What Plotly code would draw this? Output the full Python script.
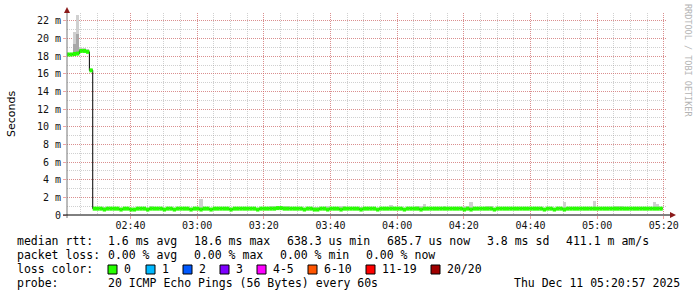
import plotly.graph_objects as go
import pandas as pd

# ---------------- data (per minute, ms) ----------------
start_time = "2025-12-11 02:20:40"
median_ms = [
    18.2, 18.2, 18.25, 18.3, 18.6, 18.6, 18.5, 16.4, 0.72, 0.72, 0.72, 0.62, 0.72, 0.72, 0.72, 0.72, 0.62, 0.72, 0.72, 0.62,
    0.62, 0.72, 0.72, 0.72, 0.62, 0.72, 0.72, 0.72, 0.72, 0.62, 0.72, 0.72, 0.62, 0.72, 0.72, 0.72, 0.72, 0.62, 0.72, 0.72,
    0.62, 0.72, 0.72, 0.62, 0.72, 0.72, 0.72, 0.72, 0.72, 0.62, 0.72, 0.72, 0.72, 0.72, 0.72, 0.72, 0.72, 0.62, 0.72, 0.72,
    0.72, 0.72, 0.72, 0.78, 0.78, 0.72, 0.72, 0.72, 0.72, 0.72, 0.72, 0.62, 0.72, 0.72, 0.62, 0.62, 0.72, 0.72, 0.62, 0.72,
    0.72, 0.72, 0.62, 0.72, 0.72, 0.72, 0.72, 0.72, 0.62, 0.72, 0.72, 0.72, 0.72, 0.62, 0.72, 0.72, 0.72, 0.72, 0.72, 0.72,
    0.72, 0.62, 0.72, 0.72, 0.72, 0.72, 0.62, 0.72, 0.72, 0.72, 0.72, 0.72, 0.72, 0.72, 0.72, 0.72, 0.72, 0.72, 0.72, 0.62,
    0.72, 0.62, 0.72, 0.72, 0.72, 0.72, 0.72, 0.72, 0.62, 0.72, 0.72, 0.72, 0.72, 0.72, 0.72, 0.72, 0.72, 0.72, 0.72, 0.72,
    0.72, 0.72, 0.72, 0.62, 0.72, 0.72, 0.62, 0.72, 0.72, 0.62, 0.72, 0.72, 0.72, 0.72, 0.72, 0.72, 0.72, 0.72, 0.72, 0.72,
    0.72, 0.72, 0.72, 0.72, 0.72, 0.72, 0.72, 0.72, 0.72, 0.72, 0.72, 0.72, 0.72, 0.72, 0.72, 0.72, 0.72, 0.72, 0.72,
]
smoke_max_ms = [
    18.4, 18.4, 20.7, 22.7, 18.9, 18.9, 18.8, 16.6, 0.85, 0.85, 0.85, 0.95, 0.85, 0.85, 0.85, 0.85, 0.85, 0.85, 0.85, 0.85,
    0.85, 0.85, 0.85, 0.85, 0.85, 1.0, 0.85, 0.85, 0.85, 0.85, 0.85, 0.85, 0.85, 0.85, 0.85, 0.85, 0.85, 0.85, 0.85, 0.85,
    1.8, 0.85, 0.85, 0.85, 0.85, 0.85, 0.85, 0.85, 0.85, 0.85, 0.85, 0.85, 0.85, 0.85, 0.85, 0.85, 0.85, 0.85, 0.85, 0.85,
    0.85, 1.0, 1.0, 1.0, 1.0, 1.0, 1.0, 0.85, 0.85, 0.85, 0.85, 0.85, 0.85, 0.95, 0.95, 0.95, 0.95, 0.85, 1.0, 0.85,
    0.85, 0.85, 1.0, 1.0, 0.85, 0.85, 0.85, 0.85, 0.95, 0.85, 0.85, 0.85, 0.85, 0.85, 0.85, 0.85, 0.85, 1.17, 0.85, 0.85,
    0.85, 0.85, 0.85, 0.85, 0.85, 1.0, 1.0, 1.25, 0.85, 0.85, 0.85, 0.85, 0.85, 1.0, 0.85, 0.85, 0.85, 0.85, 0.85, 1.05,
    1.05, 1.47, 0.85, 0.85, 0.85, 0.85, 1.0, 1.0, 0.85, 0.85, 0.85, 0.85, 0.85, 0.85, 0.85, 0.85, 0.85, 0.85, 0.85, 0.85,
    0.85, 0.85, 0.85, 0.85, 0.85, 0.85, 0.85, 0.85, 0.85, 1.5, 0.85, 0.85, 0.85, 0.85, 0.85, 0.85, 0.85, 0.85, 1.6, 0.85,
    0.85, 0.85, 0.85, 0.85, 1.0, 1.0, 1.0, 0.85, 0.85, 0.85, 0.85, 0.85, 0.85, 0.85, 0.85, 0.85, 1.47, 1.25, 0.85,
]
smoke_mid_early_ms = [18.4, 18.4, 19.4, 20.5, 18.75, 18.75, 18.6, 16.5]

x_tick_labels = ["02:40", "03:00", "03:20", "03:40", "04:00", "04:20", "04:40", "05:00", "05:20"]
y_tick_values = [0, 2, 4, 6, 8, 10, 12, 14, 16, 18, 20, 22]
y_tick_labels = ["0", "2 m", "4 m", "6 m", "8 m", "10 m", "12 m", "14 m", "16 m", "18 m", "20 m", "22 m"]

loss_labels = ["0", "1", "2", "3", "4-5", "6-10", "11-19", "20/20"]
loss_colors = ["#26ff00", "#00b8ff", "#0059ff", "#7e00ff", "#ff00ff", "#ff5500", "#ff0000", "#a00000"]

stats_rtt = ["1.6 ms avg", "18.6 ms max", "638.3 us min", "685.7 us now", "3.8 ms sd", "411.1 m am/s"]
stats_loss = ["0.00 % avg", "0.00 % max", "0.00 % min", "0.00 % now"]
probe_text = "20 ICMP Echo Pings (56 Bytes) every 60s"
date_text = "Thu Dec 11 05:20:57 2025"

# ---------------- geometry ----------------
W, H = 697, 297
ML, MR, MT, MB = 67, 30, 13, 82
PW, PH = W - ML - MR, H - MT - MB
PB = H - MB  # pixel y of plot bottom


def px(x):
    return (x - ML) / PW


def py(y):
    return (PB - y) / PH


MONO = "DejaVu Sans Mono"
GREEN = loss_colors[0]

times = pd.date_range(start_time, periods=len(median_ms) + 1, freq="1min")
t0 = times[:-1]
t1 = times[1:]
centers = t0 + pd.Timedelta(seconds=30)

fig = go.Figure()

# smoke (light)
fig.add_trace(go.Bar(
    x=centers, base=median_ms,
    y=[s - m for s, m in zip(smoke_max_ms, median_ms)],
    width=60000, marker=dict(color="#d0d0d0", line=dict(width=0)),
    hoverinfo="skip"))
# smoke (darker, near median)
n_mid = len(smoke_mid_early_ms)
fig.add_trace(go.Bar(
    x=centers[:n_mid], base=median_ms[:n_mid],
    y=[s - m for s, m in zip(smoke_mid_early_ms, median_ms[:n_mid])],
    width=60000, marker=dict(color="#a8a8a8", line=dict(width=0)),
    hoverinfo="skip"))

# median line (black, stepped)
fig.add_trace(go.Scatter(
    x=list(times), y=median_ms + [median_ms[-1]], mode="lines",
    line=dict(color="#000000", width=1, shape="hv"), hoverinfo="skip"))

# loss-coloured band (green horizontal segments)
gx, gy = [], []
for a, b, m in zip(t0, t1, median_ms):
    gx += [a, b, None]
    gy += [m, m, None]
fig.add_trace(go.Scatter(
    x=gx, y=gy, mode="lines", line=dict(color=GREEN, width=4),
    hoverinfo="skip"))

MAJOR = "rgba(225,90,90,0.55)"
MINOR = "rgba(150,150,150,0.45)"

fig.update_layout(
    width=W, height=H,
    margin=dict(l=ML, r=MR, t=MT, b=MB, pad=0),
    paper_bgcolor="white", plot_bgcolor="white",
    showlegend=False, barmode="overlay", bargap=0,
    xaxis=dict(
        type="date",
        range=["2025-12-11 02:20:57", "2025-12-11 05:20:57"],
        tickmode="array",
        tickvals=[f"2025-12-11 {t}" for t in x_tick_labels],
        ticktext=x_tick_labels,
        showgrid=True, gridcolor=MAJOR, griddash="1px,1px", gridwidth=1,
        ticks="outside", ticklen=3, tickcolor=MAJOR, ticklabelstandoff=-2,
        tickfont=dict(family=MONO, size=10, color="#111"),
        minor=dict(dtick=300000, tick0="2025-12-11 02:40", showgrid=True,
                   gridcolor=MINOR, griddash="1px,1px", gridwidth=1),
        showline=False, zeroline=False, fixedrange=True,
    ),
    yaxis=dict(
        range=[0, 22.9],
        tickmode="array", tickvals=y_tick_values, ticktext=y_tick_labels,
        showgrid=True, gridcolor=MAJOR, griddash="1px,1px", gridwidth=1,
        ticks="outside", ticklen=3, tickcolor=MAJOR,
        tickfont=dict(family=MONO, size=10, color="#111"),
        minor=dict(dtick=1, tick0=0, showgrid=True,
                   gridcolor=MINOR, griddash="1px,1px", gridwidth=1),
        showline=False, zeroline=False, fixedrange=True,
    ),
)

ARROW = "#8b1a1a"
shapes = [
    # y axis line
    dict(type="line", xref="paper", yref="paper", x0=px(67), x1=px(67),
         y0=py(218), y1=py(11), line=dict(color="#777777", width=1)),
    # x axis line
    dict(type="line", xref="paper", yref="paper", x0=px(63), x1=px(671),
         y0=py(215), y1=py(215), line=dict(color="#000000", width=1)),
    # arrows
    dict(type="path", xref="paper", yref="paper",
         path=f"M {px(64)},{py(13)} L {px(70)},{py(13)} L {px(67)},{py(7)} Z",
         fillcolor=ARROW, line=dict(color=ARROW, width=0)),
    dict(type="path", xref="paper", yref="paper",
         path=f"M {px(670)},{py(212)} L {px(670)},{py(218)} L {px(676)},{py(215)} Z",
         fillcolor=ARROW, line=dict(color=ARROW, width=0)),
]

annotations = []


def txt(s, x, y, size=11.5, color="#000", family=MONO, anchor="left", angle=0):
    annotations.append(dict(
        text=s, x=px(x), y=py(y), xref="paper", yref="paper",
        xanchor=anchor, yanchor="middle", showarrow=False, borderpad=0,
        textangle=angle, font=dict(family=family, size=size, color=color)))


# axis title and watermark
txt("Seconds", 11, 114, size=11, family="DejaVu Sans", anchor="center", angle=-90)
txt("RRDTOOL / TOBI OETIKER", 688, 60, size=8.5, color="#b4b4b4", anchor="center", angle=90)

# legend / stats lines
txt("median rtt:", 16, 241)
for s, x in zip(stats_rtt, [107, 193, 286, 386, 486, 565]):
    txt(s, x, 241)
txt("packet loss:", 16, 255)
for s, x in zip(stats_loss, [107, 193, 279, 365]):
    txt(s, x, 255)
txt("loss color:", 16, 269)
for lab, col, bx in zip(loss_labels, loss_colors, [108, 146, 183, 220, 257, 308, 366, 431]):
    shapes.append(dict(type="rect", xref="paper", yref="paper",
                       x0=px(bx), x1=px(bx + 9), y0=py(274), y1=py(265),
                       fillcolor=col, line=dict(color="#000", width=1)))
    txt(lab, bx + 15, 269)
txt("probe:", 16, 283)
txt(probe_text, 107, 283)
txt(date_text, 513, 283)

fig.update_layout(shapes=shapes, annotations=annotations)
fig.write_html("out.html")
